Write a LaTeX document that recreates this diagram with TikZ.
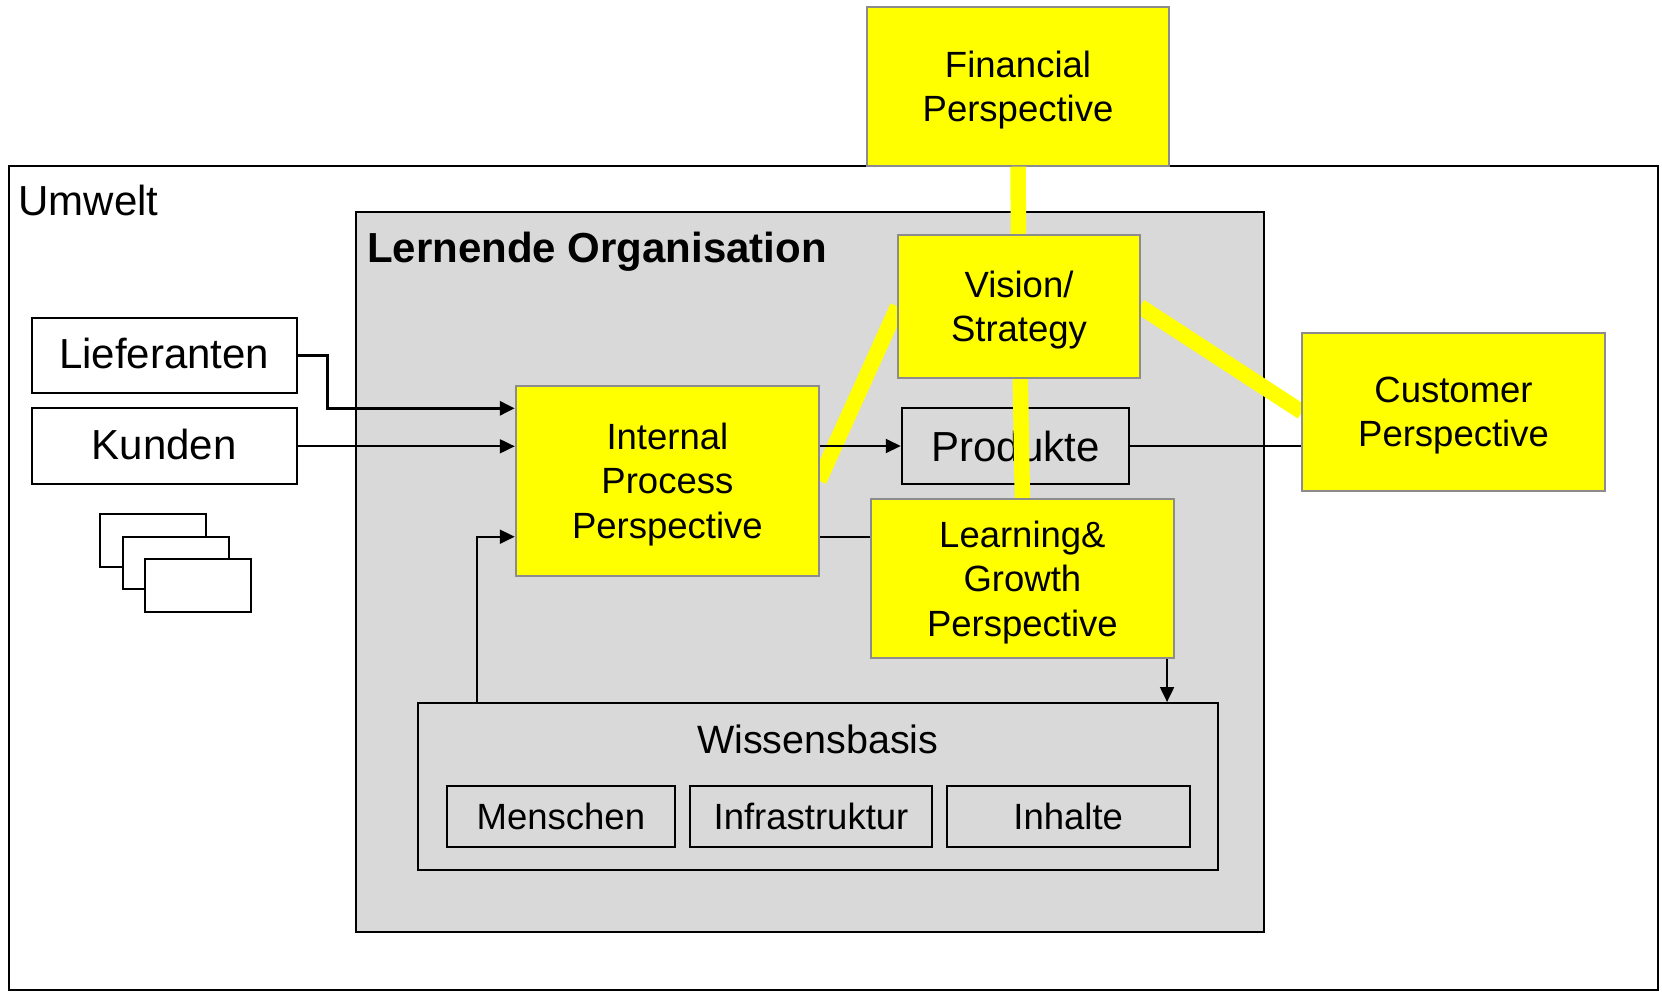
\documentclass[tikz,border=0pt]{standalone}
\usepackage{fontspec}
\setmainfont{Liberation Sans}
\usepackage{tikz}
\usetikzlibrary{arrows.meta}
\definecolor{orggray}{HTML}{D9D9D9}
\definecolor{yborder}{HTML}{8C8C8C}
\definecolor{ylw}{HTML}{FFFF00}
\tikzset{>={Triangle[length=15pt,width=14pt]}}
\tikzset{
    frame/.style={draw, line width=2pt, inner sep=0pt},
    ybox/.style={draw=yborder, fill=ylw, line width=2pt, inner sep=0pt, align=center,
        font=\fontsize{36.5}{44.5}\selectfont, text depth=-8.5pt},
    wbox/.style={frame, fill=white, font=\fontsize{42}{50}\selectfont, text depth=5pt},
    gbox/.style={frame, fill=orggray, font=\fontsize{36.5}{44.5}\selectfont},
    ylink/.style={ylw, line width=15.5pt},
    conn/.style={line width=2pt}
}

\begin{document}
\begin{tikzpicture}[x=1pt,y=-1pt]
    \useasboundingbox (0,0) rectangle (1662,994);

    % Umwelt frame and Financial box on its top edge
    \node[frame, minimum width=1648.4pt, minimum height=824.3pt] (umwelt) at (833.5,577.85) {};
    \node[anchor=base west, font=\fontsize{42}{50}\selectfont] (umweltlabel) at (15,215) {Umwelt};
    \node[ybox, minimum width=302.6pt, minimum height=158.7pt] (fin) at (1018,86.35) {Financial\\Perspective};

    % Lernende Organisation
    \node[frame, fill=orggray, minimum width=908pt, minimum height=720pt] (org) at (810,571.85) {};
    \node[anchor=base west, font=\bfseries\fontsize{42}{50}\selectfont] (orglabel) at (363.5,262.7) {Lernende Organisation};

    % Partners outside
    \node[wbox, minimum width=265pt, minimum height=75.3pt] (lief) at (164.3,355.7) {Lieferanten};
    \node[wbox, minimum width=265pt, minimum height=76pt] (kunden) at (164.3,446.3) {Kunden};
    \draw[line width=2pt, fill=white] (100,514) rectangle (206,567);
    \draw[line width=2pt, fill=white] (122.7,536.7) rectangle (228.7,589);
    \draw[line width=2pt, fill=white] (145,559.3) rectangle (251.3,612.3);

    % Wissensbasis
    \node[frame, fill=orggray, minimum width=800.5pt, minimum height=167pt] (wissen) at (817.75,786.5) {};
    \node[font=\fontsize{39.5}{47}\selectfont] (wissenlabel) at (817.75,739) {Wissensbasis};
    \node[gbox, minimum width=227.7pt, minimum height=60.7pt] (menschen) at (560.9,816.4) {Menschen};
    \node[gbox, minimum width=242.8pt, minimum height=60.7pt] (infra) at (811,816.4) {Infrastruktur};
    \node[gbox, minimum width=242.8pt, minimum height=60.7pt] (inhalte) at (1068.2,816.4) {Inhalte};

    % Produkte
    \node[frame, fill=orggray, minimum width=227.3pt, minimum height=76pt,
        font=\fontsize{42}{50}\selectfont] (produkte) at (1015.4,446) {Produkte};

    % yellow links of the scorecard
    \draw[ylink] (fin.south) -- (1019,306.5);
    \draw[ylink] (1019,306.5) -- (1022.4,499);
    \draw[ylink] (897.7,306.5) -- (819,480.6);
    \draw[ylink] (1140,306.5) -- (1302,412);

    % Perspectives
    \node[ybox, minimum width=242.3pt, minimum height=143pt] (vision) at (1019,306.5) {Vision/\\Strategy};
    \node[ybox, minimum width=303.3pt, minimum height=190pt] (intern) at (667.4,480.6) {Internal\\Process\\Perspective};
    \node[ybox, minimum width=302.7pt, minimum height=158.7pt] (lg) at (1022.4,578.4) {Learning\&\\Growth\\Perspective};
    \node[ybox, minimum width=303pt, minimum height=158.3pt] (cust) at (1453.5,411.9) {Customer\\Perspective};

    % Connectors
    \draw[->, line width=3pt] (lief.east) -- ++(30,0) |- ([yshift=72.3pt]intern.west);
    \draw[->, conn] (kunden.east) -- (kunden.east -| intern.west);
    \draw[->, conn] ([xshift=60.5pt]wissen.north west) |- ([yshift=-56.1pt]intern.west);
    \draw[->, conn] (intern.east |- produkte.west) -- (produkte.west);
    \draw[conn] ([yshift=-56.1pt]intern.east) -- ([yshift=-56.1pt]intern.east -| lg.west);
    \draw[conn] (produkte.east) -- (produkte.east -| cust.west);
    \draw[->, conn] ([xshift=-7.7pt]lg.south east) -- ([xshift=-7.7pt]lg.south east |- wissen.north);
\end{tikzpicture}
\end{document}
